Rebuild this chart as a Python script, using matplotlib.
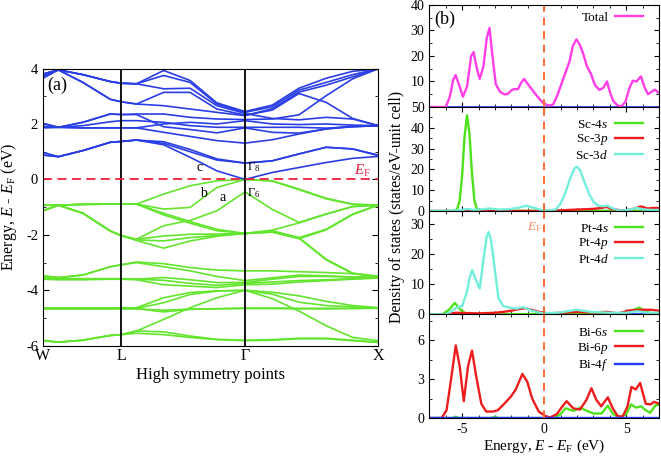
import numpy as np
import matplotlib
matplotlib.use('Agg')
import matplotlib.pyplot as plt
from matplotlib.ticker import MultipleLocator, FixedLocator

plt.rcParams['font.family'] = 'Liberation Serif'
plt.rcParams['mathtext.fontset'] = 'custom'
plt.rcParams['mathtext.rm'] = 'Liberation Serif'
plt.rcParams['mathtext.it'] = 'Liberation Serif:italic'
plt.rcParams['axes.unicode_minus'] = False

# ---------------- band structure data ----------------
kpts = [0, 0.046, 0.119, 0.201, 0.234, 0.279, 0.360, 0.439, 0.519, 0.603,
        0.684, 0.764, 0.845, 0.924, 1.0]
kticks = [0, 0.234, 0.603, 1.0]
klabels = ['W', 'L', 'Γ', 'X']

valence = [
    [-0.93, -0.93, -0.90, -0.89, -0.89, -0.89, -0.53, -0.23, -0.05, 0.00, -0.05, -0.35, -0.68, -0.89, -0.93],
    [-0.93, -0.93, -0.90, -0.89, -0.89, -0.89, -1.07, -1.01, -0.29, 0.00, -0.06, -0.37, -0.70, -0.90, -0.93],
    [-1.13, -0.93, -1.22, -1.86, -2.03, -2.16, -1.67, -1.48, -1.13, -0.45, -1.08, -1.55, -1.25, -0.98, -0.93],
    [-0.93, -0.93, -0.90, -0.89, -0.89, -0.89, -1.22, -1.52, -1.80, -1.95, -1.85, -2.10, -1.80, -1.25, -0.93],
    [-0.93, -0.93, -0.90, -0.89, -0.89, -0.89, -1.28, -1.58, -1.85, -1.95, -1.90, -2.12, -2.90, -3.40, -3.50],
    [-1.13, -0.93, -1.22, -1.86, -2.03, -2.16, -2.04, -1.98, -1.97, -1.95, -1.83, -1.57, -1.25, -0.98, -0.93],
    [-1.13, -0.93, -1.22, -1.86, -2.03, -2.18, -2.22, -2.10, -2.02, -1.95, -1.88, -2.10, -2.88, -3.38, -3.50],
    [-1.13, -0.93, -1.22, -1.86, -2.03, -2.20, -2.48, -2.22, -2.05, -1.95, -1.90, -2.14, -1.82, -1.27, -0.93],
    [-3.48, -3.54, -3.45, -3.15, -3.08, -2.98, -3.04, -3.18, -3.27, -3.30, -3.30, -3.33, -3.36, -3.40, -3.50],
    [-3.48, -3.54, -3.45, -3.15, -3.08, -3.00, -3.15, -3.30, -3.50, -3.65, -3.55, -3.45, -3.48, -3.52, -3.53],
    [-3.55, -3.57, -3.58, -3.58, -3.58, -3.60, -3.54, -3.62, -3.72, -3.72, -3.60, -3.50, -3.50, -3.52, -3.53],
    [-3.57, -3.60, -3.60, -3.60, -3.60, -3.60, -3.64, -3.75, -3.82, -3.75, -3.70, -3.65, -3.62, -3.58, -3.55],
    [-3.60, -3.62, -3.62, -3.60, -3.60, -3.62, -3.80, -3.85, -3.90, -3.80, -3.78, -3.70, -3.65, -3.60, -3.56],
    [-4.64, -4.64, -4.64, -4.64, -4.63, -4.63, -4.27, -4.08, -4.02, -4.00, -4.14, -4.43, -4.55, -4.60, -4.63],
    [-4.65, -4.65, -4.65, -4.65, -4.65, -4.65, -4.45, -4.15, -4.03, -4.00, -4.30, -4.75, -5.28, -5.70, -5.82],
    [-4.66, -4.66, -4.66, -4.66, -4.66, -4.66, -4.78, -4.69, -4.66, -4.64, -4.64, -4.65, -4.65, -4.65, -4.64],
    [-4.67, -4.67, -4.67, -4.67, -4.67, -4.67, -4.72, -4.68, -4.67, -4.66, -4.66, -4.67, -4.67, -4.66, -4.65],
    [-5.80, -5.87, -5.80, -5.63, -5.60, -5.47, -5.05, -4.63, -4.27, -4.00, -4.07, -4.20, -4.40, -4.55, -4.63],
    [-5.82, -5.87, -5.80, -5.63, -5.60, -5.47, -5.50, -5.65, -5.77, -5.80, -5.78, -5.73, -5.73, -5.80, -5.88],
    [-5.82, -5.87, -5.80, -5.63, -5.60, -5.55, -5.60, -5.70, -5.78, -5.82, -5.80, -5.75, -5.75, -5.82, -5.88],
]

conduction = [
    [0.98, 0.82, 1.04, 1.34, 1.37, 1.42, 1.25, 0.80, 0.31, 0.00, 0.25, 0.43, 0.61, 0.76, 0.83],
    [0.88, 0.82, 1.04, 1.34, 1.37, 1.42, 1.30, 1.00, 0.70, 0.59, 0.67, 0.92, 1.16, 1.10, 0.88],
    [0.88, 0.82, 1.04, 1.34, 1.37, 1.42, 1.36, 1.08, 0.74, 0.59, 0.67, 0.92, 1.16, 1.10, 0.86],
    [1.88, 1.88, 1.86, 1.86, 1.86, 1.86, 1.70, 1.55, 1.40, 1.31, 1.43, 1.64, 1.82, 1.90, 1.94],
    [1.92, 1.88, 1.94, 2.08, 2.12, 2.12, 2.06, 1.94, 1.88, 1.88, 1.88, 1.88, 1.85, 1.90, 1.94],
    [2.02, 1.88, 2.06, 2.36, 2.34, 2.34, 1.90, 1.80, 1.68, 1.86, 1.70, 1.67, 1.82, 1.93, 1.94],
    [1.86, 1.88, 1.86, 1.86, 1.86, 1.86, 2.00, 2.06, 2.00, 2.12, 2.00, 1.98, 2.00, 1.96, 1.94],
    [2.02, 1.88, 2.06, 2.36, 2.34, 2.36, 2.36, 2.24, 2.18, 2.16, 2.18, 2.33, 3.02, 3.63, 3.99],
    [3.72, 3.95, 3.50, 2.89, 2.80, 2.72, 3.14, 3.14, 2.54, 2.32, 2.50, 3.10, 2.78, 2.20, 1.94],
    [3.80, 3.95, 3.78, 3.53, 3.47, 3.45, 3.93, 3.57, 2.76, 2.45, 2.68, 3.29, 3.65, 3.90, 3.99],
    [3.80, 3.95, 3.78, 3.53, 3.47, 3.45, 3.75, 3.50, 2.72, 2.42, 2.62, 3.22, 3.50, 3.78, 3.99],
    [3.80, 3.95, 3.78, 3.53, 3.47, 3.45, 3.27, 3.29, 2.66, 2.38, 2.20, 2.15, 2.24, 2.18, 1.94],
    [3.65, 3.95, 3.50, 2.89, 2.80, 2.72, 2.66, 2.54, 2.42, 2.30, 2.55, 3.15, 3.40, 3.70, 3.99],
]

# ---------------- DOS data ----------------
tot_e = [-7, -6.0, -5.75, -5.55, -5.4, -5.2, -4.95, -4.7, -4.45, -4.3, -4.1, -3.93, -3.7, -3.5,
         -3.33, -3.15, -2.95, -2.7, -2.45, -2.25, -2.0, -1.85, -1.6, -1.4, -1.22, -1.0, -0.7,
         -0.4, -0.05, 0.3, 0.55, 0.8, 1.05, 1.3, 1.55, 1.75, 1.97, 2.2, 2.4, 2.6, 2.85, 3.1,
         3.37, 3.6, 3.83, 4.0, 4.2, 4.45, 4.7, 4.95, 5.2, 5.4, 5.62, 5.9, 6.1, 6.33, 6.55, 6.75, 7.0]
tot_v = [0, 0, 4, 10.5, 12.5, 9, 4, 8, 20, 21.5, 15, 11, 16, 27,
         31, 20, 9, 6, 5, 5, 6.5, 7, 7, 9.5, 11, 9, 6.5,
         4, 1.5, 0.5, 1, 4.5, 9, 13.5, 18, 24, 26.5, 24, 20.5, 16, 13, 8.5,
         6.7, 7.5, 10, 6, 2.5, 0.7, 0.2, 2, 7.5, 10.3, 10, 12, 8, 5, 6, 6.8, 5.5]

sc4s_e = [-7, -5.5, -5.3, -5.15, -5.0, -4.85, -4.7, -4.55, -4.4, -4.25, -4.1, -3.9, 7]
sc4s_v = [0, 0, 1, 5, 17, 36, 46, 37, 18, 5, 1, 0.1, 0.1]
sc3p_e = [-7, -5.0, -4.7, -4.3, 0.5, 1.0, 2.0, 3.0, 3.5, 3.8, 4.1, 4.6, 5.0, 5.5, 5.9, 6.3, 6.7, 7.0]
sc3p_v = [0, 0, 0.5, 0, 0, 0.3, 0.7, 1.0, 1.5, 2.0, 1.0, 0.4, 0.3, 1.2, 2.2, 1.2, 1.5, 1.4]
sc3d_e = [-7, -6, -5, -4.7, -4.3, -3.8, -3.3, -2.8, -2.2, -1.6, -1.1, -0.6, -0.1, 0.3, 0.7, 1.0,
          1.3, 1.6, 1.85, 2.0, 2.2, 2.45, 2.75, 3.0, 3.3, 3.6, 3.85, 4.1, 4.5, 4.9, 5.3, 5.65,
          6.0, 6.5, 7.0]
sc3d_v = [0, 0, 0.5, 1, 0.5, 0.8, 1.2, 0.7, 0.8, 1.5, 2.5, 1.5, 0.3, 0.2, 0.8, 3.5,
          9, 16, 20.5, 21.3, 19.5, 14, 8, 4.5, 2.5, 2.3, 2.6, 1.5, 0.3, 0.3, 0.8, 1.5,
          0.8, 0.5, 0.5]

pt4s_e = [-7, -6.2, -5.8, -5.45, -5.1, -4.8, -4.3, 4.8, 5.3, 5.8, 6.1, 6.5, 7.0]
pt4s_v = [0, 0, 1.5, 3.8, 1.5, 0.3, 0, 0.2, 1.2, 2.2, 1.2, 0.3, 0.3]
pt4p_e = [-7, -6, -5.4, -4, -3, -2.5, -2.0, -1.5, -1.2, -0.8, -0.3, 0.2, 1, 2, 3, 3.8, 4.5,
          5.2, 6, 6.5, 7]
pt4p_v = [0, 0, 0.5, 0.3, 0.5, 0.8, 1.2, 1.8, 2.0, 1.5, 0.8, 0.3, 0.5, 0.8, 0.6, 0.8, 0.3,
          1.3, 1.5, 1.5, 1.2]
pt4d_e = [-7, -6.0, -5.7, -5.4, -5.0, -4.7, -4.55, -4.39, -4.2, -3.93, -3.69, -3.5, -3.39,
          -3.25, -3.09, -2.79, -2.49, -1.99, -1.69, -1.28, -0.78, -0.17, 0.84, 1.95, 2.86,
          4.0, 5.0, 5.67, 6.3, 7.0]
pt4d_v = [0, 0, 0.8, 2.1, 2.7, 7.6, 12, 14.8, 12, 8.6, 18.7, 26, 27.5, 25, 18.7, 5.4,
          2.7, 2.1, 1.9, 2.4, 1.2, 0.4, 0.5, 1.5, 0.8, 0.5, 0.5, 1.0, 0.5, 0.5]

bi6s_e = [-7, -5.6, -5.4, -5.2, -3.2, -3.0, -2.8, 0.6, 1.0, 1.3, 1.8, 2.2, 2.6, 3.0, 3.5,
          3.88, 4.2, 4.6, 5.0, 5.3, 5.6, 5.9, 6.2, 6.45, 6.8, 7.0]
bi6s_v = [0, 0, 0.1, 0, 0, 0.1, 0, 0, 0.3, 0.75, 0.55, 0.8, 0.55, 0.35, 0.35,
          0.95, 0.3, 0.05, 0.3, 1.05, 0.8, 0.9, 0.6, 0.4, 1.0, 1.0]
bi6p_e = [-7, -6.25, -5.95, -5.65, -5.39, -5.15, -4.9, -4.64, -4.4, -4.14, -3.83, -3.53,
          -3.13, -2.83, -2.43, -2.03, -1.73, -1.33, -1.03, -0.73, -0.33, 0.07, 0.37, 0.77,
          1.11, 1.37, 1.77, 2.18, 2.58, 2.88, 3.18, 3.48, 3.88, 4.18, 4.48, 4.78, 5.08,
          5.32, 5.58, 5.85, 6.19, 6.49, 6.7, 7.0]
bi6p_v = [0, 0, 0.6, 3.2, 5.6, 4.0, 1.3, 4.0, 5.2, 3.2, 1.1, 0.5,
          0.5, 0.6, 1.1, 1.65, 2.2, 3.4, 2.8, 1.5, 0.5, 0.15, 0.05, 0.3,
          0.9, 1.3, 0.75, 0.65, 1.4, 2.3, 1.4, 0.9, 1.6, 0.75, 0.15, 0.1, 0.9,
          2.4, 2.2, 2.7, 1.1, 1.05, 1.25, 1.1]
f_e = [-7, 7]
f_v = [0, 0]

green = '#62e52c'
blue = '#2a3ee6'
dgreen = '#4ee21c'
red = '#ee1c1c'
cyan = '#72f0dc'
magenta = '#ff3ee8'
dblue = '#1f3cff'

fig = plt.figure(figsize=(6.61, 4.57), dpi=100)

# ---------------- (a) band structure ----------------
ax = fig.add_axes([0.065, 0.2435, 0.507, 0.6065])
for b in valence:
    ax.plot(kpts, b, color=green, lw=1.2)
for b in conduction:
    ax.plot(kpts, b, color=blue, lw=1.2)
for kx in kticks[1:3]:
    ax.axvline(kx, color='black', lw=1.3)
ax.axhline(0, color='#f0203c', lw=1.3, ls=(0, (5, 3)))
ax.set_xlim(0, 1)
ax.set_ylim(-6, 4)
ax.set_xticks(kticks)
ax.set_xticklabels(klabels, fontsize=11.5)
ax.tick_params(axis='x', length=0, pad=2)
ax.yaxis.set_major_locator(MultipleLocator(2))
ax.yaxis.set_minor_locator(MultipleLocator(1))
ax.tick_params(axis='y', which='both', direction='in', right=True, labelsize=10.5)
ax.tick_params(axis='y', which='major', length=4)
ax.tick_params(axis='y', which='minor', length=2.5)
ax.set_xlabel('High symmetry points', fontsize=12, labelpad=2)
ax.set_ylabel('Energy, $E$ - $E_{\\rm F}$ (eV)', fontsize=11.5, labelpad=5)
ax.text(0.044, 3.4, '(a)', fontsize=13, ha='center', va='center')
ax.text(0.955, 0.3, '$E_{\\rm F}$', fontsize=11, color='#f0203c', ha='center', va='center')
ax.text(0.608, 0.45, '$\\Gamma_8$', fontsize=9, ha='left', va='center')
ax.text(0.608, -0.5, '$\\Gamma_6$', fontsize=9, ha='left', va='center')
ax.text(0.468, 0.42, 'c', fontsize=10, ha='center', va='center')
ax.text(0.478, -0.5, 'b', fontsize=10, ha='center', va='center')
ax.text(0.537, -0.67, 'a', fontsize=10, ha='center', va='center')

# ---------------- (b) DOS panels ----------------
left, width = 0.6495, 0.3475
pos = [(0.7659, 0.2232), (0.5383, 0.2276), (0.3123, 0.2260), (0.0853, 0.2270)]
axs = [fig.add_axes([left, b, width, h]) for b, h in pos]
a_tot, a_sc, a_pt, a_bi = axs

lw = 1.7
a_tot.plot(f_e, f_v, color=dblue, lw=1.2)
a_tot.plot(tot_e, tot_v, color=magenta, lw=lw, label='Total')

a_sc.plot(sc4s_e, sc4s_v, color=dgreen, lw=lw, label='Sc-4$s$')
a_sc.plot(sc3p_e, sc3p_v, color=red, lw=lw, label='Sc-3$p$')
a_sc.plot(sc3d_e, sc3d_v, color=cyan, lw=lw, label='Sc-3$d$')

a_pt.plot(f_e, f_v, color=dblue, lw=1.2)
a_pt.plot(pt4s_e, pt4s_v, color=dgreen, lw=lw, label='Pt-4$s$')
a_pt.plot(pt4p_e, pt4p_v, color=red, lw=lw, label='Pt-4$p$')
a_pt.plot(pt4d_e, pt4d_v, color=cyan, lw=lw, label='Pt-4$d$')

a_bi.plot(bi6s_e, bi6s_v, color=dgreen, lw=lw, label='Bi-6$s$')
a_bi.plot(bi6p_e, bi6p_v, color=red, lw=lw, label='Bi-6$p$')
a_bi.plot(f_e, f_v, color=dblue, lw=lw, label='Bi-4$f$')

ylims = [(0, 40), (0, 50), (0, 34.5), (0, 8)]
majors = [10, 10, 10, 3]
minors = [5, 5, 5, 1.5]
leg_top = [0.985, 0.94, 0.94, 0.93]
for a, yl, mj, mn, lt in zip(axs, ylims, majors, minors, leg_top):
    a.set_xlim(-7, 7)
    a.set_ylim(*yl)
    a.axvline(0, color='#ff6a30', lw=1.4, ls=(0, (4, 3)))
    a.xaxis.set_major_locator(MultipleLocator(5))
    a.xaxis.set_minor_locator(MultipleLocator(1))
    a.yaxis.set_major_locator(MultipleLocator(mj))
    a.yaxis.set_minor_locator(MultipleLocator(mn))
    a.tick_params(which='both', direction='in', top=True, right=True, labelsize=10)
    a.tick_params(which='major', length=3.5)
    a.tick_params(which='minor', length=2)
    a.legend(loc='upper right', bbox_to_anchor=(0.952, lt), frameon=False,
             markerfirst=False, fontsize=9.5, handlelength=2.1, labelspacing=0.12,
             borderaxespad=0, handletextpad=0.5)
    if a is not a_bi:
        a.tick_params(labelbottom=False)

a_tot.yaxis.set_major_locator(FixedLocator([10, 20, 30, 40]))
a_bi.set_xlabel('Energy, $E$ - $E_{\\rm F}$ (eV)', fontsize=11, labelpad=1)
a_tot.text(-6.05, 34.5, '(b)', fontsize=13, ha='center', va='center')
a_pt.text(-0.6, 29, '$E_{\\rm F}$', fontsize=9.5, color='#ff8a6a', ha='center', va='center')
fig.text(0.601, 0.547, 'Density of states (states/eV-unit cell)', rotation=90,
         fontsize=11.3, ha='center', va='center')

fig.savefig('out.png', dpi=100)
